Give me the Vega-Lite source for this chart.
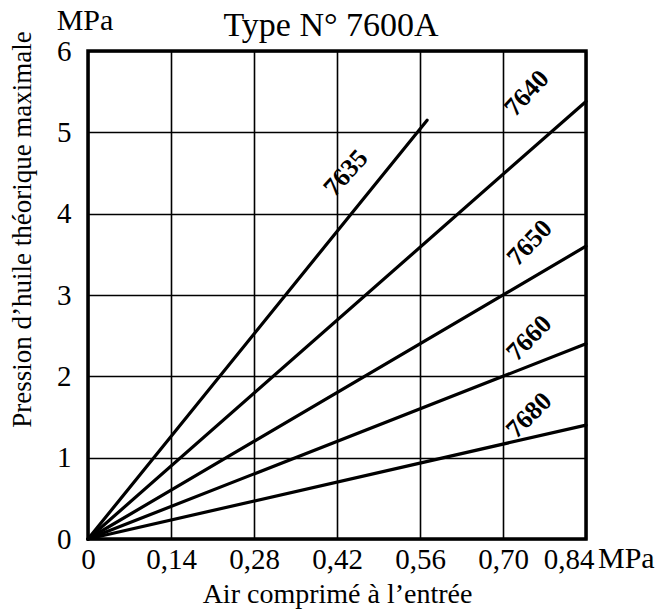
{
  "$schema": "https://vega.github.io/schema/vega-lite/v6.json",
  "width": 498,
  "height": 488,
  "autosize": {"type": "none"},
  "padding": {"left": 88, "top": 51, "right": 81, "bottom": 73},
  "background": "white",
  "config": {
    "view": {"stroke": "black", "strokeWidth": 3.5},
    "font": "Liberation Serif"
  },
  "datasets": {
    "lines": [
      {"series": "7635", "x": 0, "y": 0},
      {"series": "7635", "x": 0.572, "y": 5.15},
      {"series": "7640", "x": 0, "y": 0},
      {"series": "7640", "x": 0.84, "y": 5.38},
      {"series": "7650", "x": 0, "y": 0},
      {"series": "7650", "x": 0.84, "y": 3.6},
      {"series": "7660", "x": 0, "y": 0},
      {"series": "7660", "x": 0.84, "y": 2.4},
      {"series": "7680", "x": 0, "y": 0},
      {"series": "7680", "x": 0.84, "y": 1.4}
    ],
    "labels": [
      {"series": "7635", "x": 0.435, "y": 4.5},
      {"series": "7640", "x": 0.74, "y": 5.48},
      {"series": "7650", "x": 0.745, "y": 3.64},
      {"series": "7660", "x": 0.744, "y": 2.47},
      {"series": "7680", "x": 0.744, "y": 1.52}
    ],
    "titleRow": [{"x": 0.42, "y": 6, "label": "Type N° 7600A"}],
    "unitY": [{"x": 0, "y": 6, "label": "MPa"}],
    "unitX": [{"x": 0.84, "y": 0, "label": "MPa"}]
  },
  "layer": [
    {
      "data": {"name": "lines"},
      "mark": {"type": "line", "color": "black", "strokeWidth": 3.2, "strokeCap": "round"},
      "encoding": {
        "x": {
          "field": "x",
          "type": "quantitative",
          "scale": {"domain": [0, 0.84], "nice": false, "zero": true},
          "axis": {
            "values": [0, 0.14, 0.28, 0.42, 0.56, 0.7, 0.84],
            "labelExpr": "datum.value == 0 ? '0' : replace(format(datum.value, '.2f'), '.', ',')",
            "grid": true,
            "gridColor": "black",
            "gridWidth": 1.6,
            "gridOpacity": 1,
            "domain": false,
            "ticks": false,
            "tickSize": 0,
            "labelFont": "Liberation Serif",
            "labelFontSize": 29,
            "labelColor": "black",
            "labelPadding": 6,
            "labelFlush": false,
            "labelOverlap": false,
            "labelAlign": {"condition": {"test": "datum.value > 0.8", "value": "right"}, "value": "center"},
            "labelOffset": {"condition": {"test": "datum.value > 0.8", "value": 8}, "value": 0},
            "title": "Air comprimé à l’entrée",
            "titleFont": "Liberation Serif",
            "titleFontSize": 28,
            "titleFontWeight": "normal",
            "titleColor": "black",
            "titleBaseline": "alphabetic",
            "titleAlign": "center",
            "titleY": 63
          }
        },
        "y": {
          "field": "y",
          "type": "quantitative",
          "scale": {"domain": [0, 6], "nice": false},
          "axis": {
            "values": [0, 1, 2, 3, 4, 5, 6],
            "format": "d",
            "grid": true,
            "gridColor": "black",
            "gridWidth": 1.6,
            "gridOpacity": 1,
            "domain": false,
            "ticks": false,
            "tickSize": 0,
            "labelFont": "Liberation Serif",
            "labelFontSize": 29,
            "labelColor": "black",
            "labelPadding": 17,
            "labelFlush": false,
            "labelOverlap": false,
            "labelBaseline": "middle",
            "title": "Pression d’huile théorique maximale",
            "titleFont": "Liberation Serif",
            "titleFontSize": 27,
            "titleFontWeight": "normal",
            "titleColor": "black",
            "titleAngle": 270,
            "titleBaseline": "alphabetic",
            "titleAlign": "center",
            "titleX": -58,
            "titleY": 178
          }
        },
        "detail": {"field": "series", "type": "nominal"}
      }
    },
    {
      "data": {"name": "labels"},
      "mark": {"type": "text", "font": "Liberation Serif", "fontSize": 26, "fontWeight": "bold", "color": "black", "align": "center", "baseline": "middle"},
      "encoding": {
        "x": {"field": "x", "type": "quantitative"},
        "y": {"field": "y", "type": "quantitative"},
        "text": {"field": "series", "type": "nominal"},
        "angle": {
          "field": "series",
          "type": "nominal",
          "scale": {"domain": ["7635", "7640", "7650", "7660", "7680"], "range": [312, 315, 330, 338, 344]},
          "legend": null
        }
      }
    },
    {
      "data": {"name": "titleRow"},
      "mark": {"type": "text", "font": "Liberation Serif", "fontSize": 34, "color": "black", "align": "center", "baseline": "alphabetic", "dx": -6, "dy": -15},
      "encoding": {
        "x": {"field": "x", "type": "quantitative"},
        "y": {"field": "y", "type": "quantitative"},
        "text": {"field": "label", "type": "nominal"}
      }
    },
    {
      "data": {"name": "unitY"},
      "mark": {"type": "text", "font": "Liberation Serif", "fontSize": 30, "color": "black", "align": "center", "baseline": "alphabetic", "dx": -3, "dy": -21},
      "encoding": {
        "x": {"field": "x", "type": "quantitative"},
        "y": {"field": "y", "type": "quantitative"},
        "text": {"field": "label", "type": "nominal"}
      }
    },
    {
      "data": {"name": "unitX"},
      "mark": {"type": "text", "font": "Liberation Serif", "fontSize": 30, "color": "black", "align": "left", "baseline": "alphabetic", "dx": 12, "dy": 29},
      "encoding": {
        "x": {"field": "x", "type": "quantitative"},
        "y": {"field": "y", "type": "quantitative"},
        "text": {"field": "label", "type": "nominal"}
      }
    }
  ]
}
